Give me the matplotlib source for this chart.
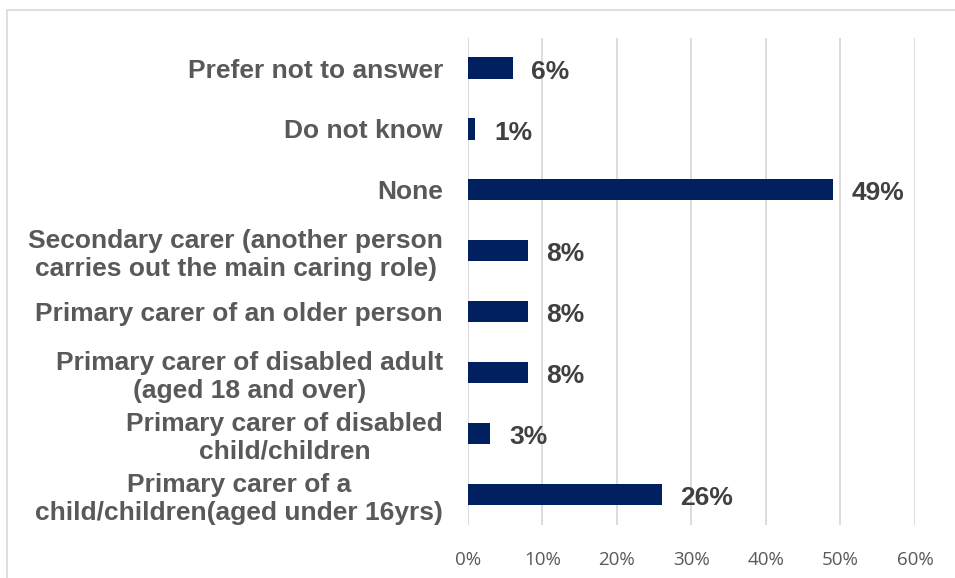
import matplotlib
matplotlib.use("Agg")
import matplotlib.pyplot as plt
from matplotlib.patches import Rectangle

categories = [
    "Prefer not to answer",
    "Do not know",
    "None",
    "Secondary carer (another person\ncarries out the main caring role)",
    "Primary carer of an older person",
    "Primary carer of disabled adult\n(aged 18 and over)",
    "Primary carer of disabled\nchild/children",
    "Primary carer of a\nchild/children(aged under 16yrs)",
]
values = [6, 1, 49, 8, 8, 8, 3, 26]
xticks = [0, 10, 20, 30, 40, 50, 60]

bar_color = "#002060"
label_color = "#595959"
value_color = "#404040"
grid_color = "#D9D9D9"

fig = plt.figure(figsize=(9.55, 5.78), dpi=100)
ax = fig.add_axes([0.490, 0.092, 0.468, 0.843])

n = len(categories)
ypos = list(range(n))
ax.barh(ypos, values, height=0.35, color=bar_color, zorder=3)
ax.set_ylim(n - 0.5, -0.5)
ax.set_xlim(0, 60)

for y, v in zip(ypos, values):
    ax.text(v + 2.5, y + 0.06, f"{v}%", va="center", ha="left",
            fontsize=19, fontweight="bold", color=value_color,
            family="Liberation Sans")

ax.set_yticks(ypos)
ax.set_yticklabels(categories, fontsize=19, fontweight="bold",
                   color=label_color, family="Liberation Sans",
                   multialignment="center", linespacing=1.2)
ax.tick_params(axis="y", length=0, pad=18)

ax.set_xticks(xticks)
ax.set_xticklabels([f"{t}%" for t in xticks], fontsize=13.5,
                   color=label_color, family="Open Sans")
ax.tick_params(axis="x", length=0, pad=19)

ax.grid(axis="x", color=grid_color, linewidth=1.3, zorder=0)
for s in ax.spines.values():
    s.set_visible(False)

# outer chart frame, partly off the canvas
fig.patches.append(Rectangle((7 / 955, -0.1), 1.2, 1 - 10 / 578 + 0.1,
                             transform=fig.transFigure, fill=False,
                             edgecolor="#D9D9D9", linewidth=1.2))

fig.savefig("out.png", dpi=100)
